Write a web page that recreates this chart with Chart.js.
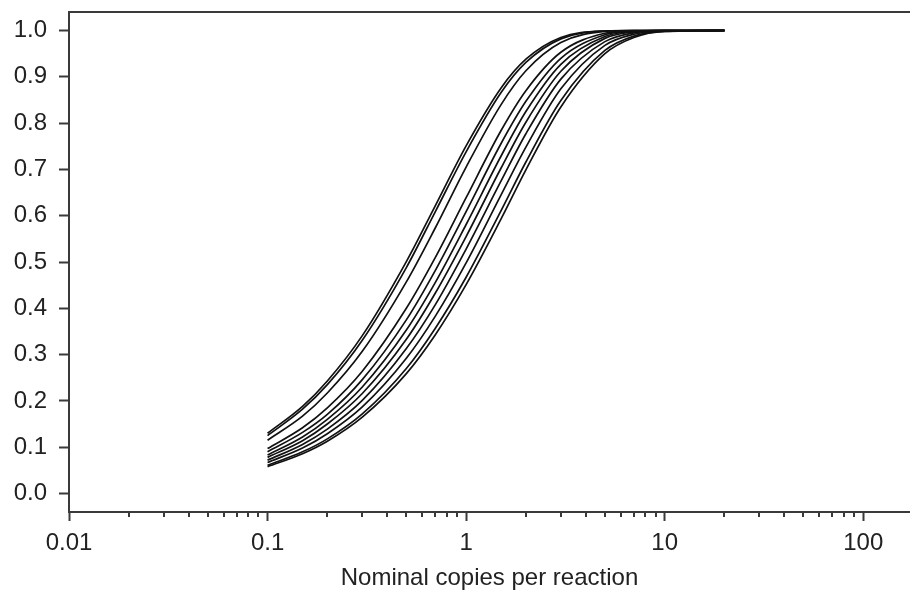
<!DOCTYPE html>
<html>
<head>
<meta charset="utf-8">
<script src="https://cdn.jsdelivr.net/npm/chart.js@4.4.1/dist/chart.umd.min.js"></script>
<style>
  html, body { margin: 0; padding: 0; background: #fff; }
</style>
</head>
<body>
<canvas id="detectionChart" width="910" height="591"></canvas>
<script>
// nominal copies per reaction (x positions where curves were read)
const copies = [0.1, 0.15, 0.2, 0.3, 0.5, 0.7, 1, 1.5, 2, 3, 5, 7, 10, 20];

// detection probability curves (left to right)
const curve1  = [0.130, 0.188, 0.243, 0.341, 0.501, 0.622, 0.751, 0.876, 0.938, 0.985, 0.999, 1.000, 1.000, 1.000];
const curve2  = [0.125, 0.182, 0.235, 0.331, 0.488, 0.609, 0.738, 0.866, 0.931, 0.982, 0.999, 1.000, 1.000, 1.000];
const curve3  = [0.115, 0.167, 0.217, 0.307, 0.457, 0.574, 0.705, 0.840, 0.913, 0.974, 0.998, 1.000, 1.000, 1.000];
const curve4  = [0.097, 0.142, 0.185, 0.264, 0.400, 0.510, 0.639, 0.784, 0.870, 0.953, 0.994, 0.999, 1.000, 1.000];
const curve5  = [0.090, 0.132, 0.171, 0.246, 0.375, 0.482, 0.609, 0.756, 0.847, 0.940, 0.991, 0.999, 1.000, 1.000];
const curve6  = [0.083, 0.122, 0.160, 0.230, 0.353, 0.456, 0.581, 0.729, 0.825, 0.927, 0.987, 0.998, 1.000, 1.000];
const curve7  = [0.078, 0.114, 0.150, 0.216, 0.333, 0.433, 0.555, 0.703, 0.802, 0.912, 0.983, 0.997, 1.000, 1.000];
const curve8  = [0.072, 0.106, 0.139, 0.201, 0.313, 0.408, 0.528, 0.675, 0.777, 0.895, 0.976, 0.995, 0.999, 1.000];
const curve9  = [0.067, 0.098, 0.129, 0.187, 0.292, 0.383, 0.498, 0.645, 0.748, 0.874, 0.968, 0.992, 0.999, 1.000];
const curve10 = [0.061, 0.090, 0.118, 0.172, 0.270, 0.357, 0.467, 0.611, 0.716, 0.849, 0.957, 0.988, 0.998, 1.000];
const curve11 = [0.058, 0.086, 0.113, 0.165, 0.259, 0.343, 0.451, 0.593, 0.699, 0.835, 0.950, 0.985, 0.998, 1.000];

const curves = [curve1, curve2, curve3, curve4, curve5, curve6, curve7, curve8, curve9, curve10, curve11];

const xTicks = [0.01, 0.1, 1, 10, 100];
const yTicks = [0, 0.1, 0.2, 0.3, 0.4, 0.5, 0.6, 0.7, 0.8, 0.9, 1.0];
const xTitle = 'Nominal copies per reaction';

const axisColor = '#3a3a3a';
const textColor = '#222';
const fontFamily = "'Liberation Sans', Arial, Helvetica, sans-serif";

// top frame line + minor log ticks
const frameAndMinorTicks = {
    id: 'frameAndMinorTicks',
    afterDraw(chart) {
        const { ctx, chartArea } = chart;
        const xs = chart.scales.x;
        ctx.save();
        ctx.strokeStyle = axisColor;
        ctx.lineWidth = 2;
        ctx.beginPath();
        ctx.moveTo(chartArea.left - 1, chartArea.top);
        ctx.lineTo(chartArea.right, chartArea.top);
        ctx.stroke();
        for (const d of xTicks) {
            if (d >= 100) continue;
            for (let m = 2; m <= 9; m++) {
                const px = Math.round(xs.getPixelForValue(d * m));
                ctx.beginPath();
                ctx.moveTo(px, chartArea.bottom);
                ctx.lineTo(px, chartArea.bottom + 5);
                ctx.stroke();
            }
        }
        ctx.restore();
    }
};

const datasets = curves.map((c, i) => ({
    label: 'curve ' + (i + 1),
    data: copies.map((x, j) => ({ x: x, y: c[j] })),
    borderColor: '#111',
    borderWidth: 1.7,
    pointRadius: 0,
    fill: false,
    cubicInterpolationMode: 'monotone'
}));

new Chart(document.getElementById('detectionChart').getContext('2d'), {
    type: 'line',
    data: { datasets: datasets },
    options: {
        responsive: false,
        animation: false,
        layout: { padding: { top: 12, right: 0, left: 0, bottom: 0 } },
        plugins: {
            legend: { display: false },
            tooltip: { enabled: false }
        },
        scales: {
            x: {
                type: 'logarithmic',
                min: 0.01,
                max: 172,
                afterBuildTicks: scale => { scale.ticks = xTicks.map(v => ({ value: v, major: true })); },
                afterFit: scale => {
                    scale.height = 79;
                    scale.paddingLeft = 0;
                    scale.paddingRight = 0;
                },
                ticks: {
                    color: textColor,
                    font: { family: fontFamily, size: 24 },
                    padding: 8,
                    maxRotation: 0,
                    autoSkip: false,
                    callback: value => String(value)
                },
                grid: {
                    drawOnChartArea: false,
                    drawTicks: true,
                    tickLength: 9,
                    tickWidth: 2,
                    tickColor: axisColor
                },
                border: { display: true, color: axisColor, width: 2 },
                title: {
                    display: true,
                    text: xTitle,
                    color: textColor,
                    font: { family: fontFamily, size: 24 },
                    padding: { top: 0, bottom: -2 }
                }
            },
            y: {
                type: 'linear',
                min: -0.04,
                max: 1.04,
                afterBuildTicks: scale => { scale.ticks = yTicks.map(v => ({ value: v })); },
                afterFit: scale => {
                    scale.width = 69;
                    scale.paddingTop = 0;
                    scale.paddingBottom = 0;
                },
                ticks: {
                    color: textColor,
                    font: { family: fontFamily, size: 24 },
                    padding: 12,
                    autoSkip: false,
                    callback: value => value.toFixed(1)
                },
                grid: {
                    drawOnChartArea: false,
                    drawTicks: true,
                    tickLength: 10,
                    tickWidth: 2,
                    tickColor: axisColor
                },
                border: { display: true, color: axisColor, width: 2 }
            }
        }
    },
    plugins: [frameAndMinorTicks]
});
</script>
</body>
</html>
